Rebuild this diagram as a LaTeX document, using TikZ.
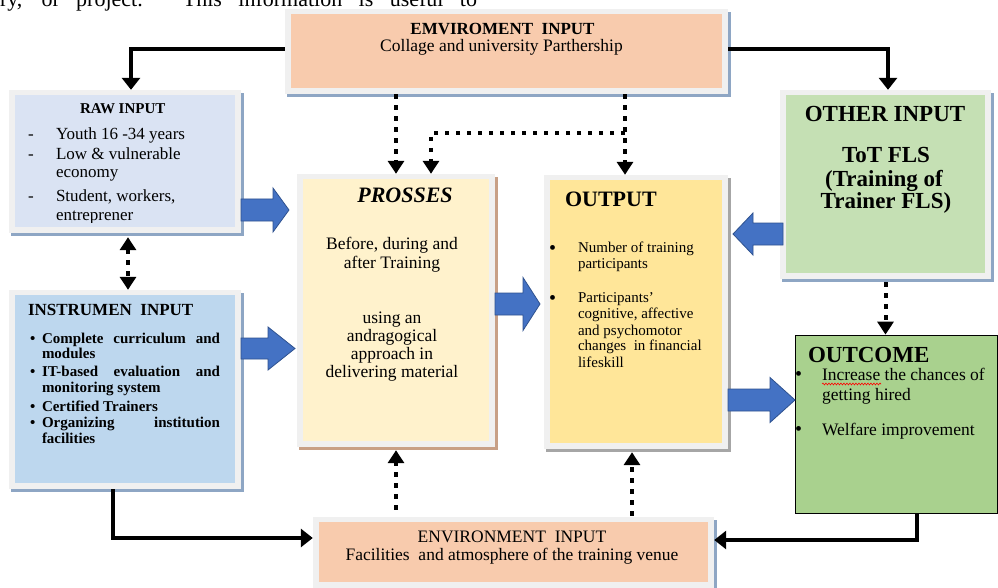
\documentclass[tikz,border=0pt]{standalone}
\usepackage{fontspec}
\setmainfont{Liberation Serif}
\usetikzlibrary{arrows.meta,decorations.pathmorphing,fit,calc}

\definecolor{peach}{HTML}{F8CBAD}
\definecolor{rawblue}{HTML}{DAE3F3}
\definecolor{insblue}{HTML}{BDD7EE}
\definecolor{procy}{HTML}{FFF2CC}
\definecolor{outy}{HTML}{FFE699}
\definecolor{othg}{HTML}{C5E0B4}
\definecolor{outcg}{HTML}{A9D18E}
\definecolor{arrblue}{HTML}{4472C4}
\definecolor{arredge}{HTML}{2F528F}
\definecolor{frameg}{HTML}{F0F0F0}
\definecolor{shblue}{HTML}{8EA6C4}
\definecolor{shbrown}{HTML}{C8A086}
\definecolor{shgray}{HTML}{A6A6A6}

\newcommand\fsz[1]{\fontsize{#1}{#1}\selectfont}
% name, x1, y1, x2, y2, fill, shadow
\newcommand\framebx[7]{%
  \node[fit={(#2,#3) (#4,#5)},inner sep=0pt] (#1) {};
  \fill[#7] ([shift={(2.5pt,-3pt)}]#1.north west) rectangle ([shift={(2.5pt,-3pt)}]#1.south east);
  \fill[frameg] (#1.north west) rectangle (#1.south east);
  \fill[#6] ([shift={(6pt,-5pt)}]#1.north west) rectangle ([shift={(-6pt,6pt)}]#1.south east);
}
% start, base, tip, ycenter, shaft half, head half
\newcommand\blockarr[6]{%
  \filldraw[fill=arrblue,draw=arredge,line width=0.8pt,line join=miter]
    (#1,#4-#5) -- (#2,#4-#5) -- (#2,#4-#6) -- (#3,#4) -- (#2,#4+#6) -- (#2,#4+#5) -- (#1,#4+#5) -- cycle;
}

\begin{document}
\begin{tikzpicture}[x=1pt,y=-1pt,
  txt/.style={anchor=base west,inner sep=0pt,outer sep=0pt},
  ctxt/.style={anchor=base,inner sep=0pt,outer sep=0pt},
  bul/.style={anchor=base west,inner sep=0pt,outer sep=0pt,font=\fsz{20}},
  solidarr/.style={line width=4pt,-{Triangle[width=18pt,length=12pt]}},
  dotarr/.style={line width=4pt,dash pattern=on 4.5pt off 6.5pt,-{Triangle[width=16pt,length=13pt]}},
  dotboth/.style={line width=4pt,dash pattern=on 4.5pt off 6.5pt,{Triangle[width=16pt,length=13pt]}-{Triangle[width=16pt,length=13pt]}}]

\clip (0,0) rectangle (998,588);
\fill[white] (0,0) rectangle (998,588);

% stray text line cut at the top
\node[txt,font=\fsz{22}] (topline) at (0,7) {\makebox[477pt][s]{ry, or project. This information is useful to}};

% boxes
\framebx{envtop}{285}{9}{728}{94}{peach}{shblue}
\framebx{raw}{9}{90}{241}{233}{rawblue}{shblue}
\framebx{instr}{9}{290}{241}{489}{insblue}{shblue}
\framebx{proc}{297}{174}{495}{447}{procy}{shbrown}
\framebx{out}{544}{175}{728}{449}{outy}{shgray}
\framebx{other}{780}{90}{991}{279}{othg}{shblue}
\framebx{envbot}{313}{517}{714}{588}{peach}{shblue}
\node[draw=black,line width=0.8pt,fill=outcg,fit={(795,335) (997.5,513)},inner sep=0pt] (outcome) {};

% solid black connectors
\draw[solidarr] ([yshift=2pt]envtop.west) -| ([xshift=6pt]raw.north);
\draw[solidarr] ([yshift=2pt]envtop.east) -| ([xshift=2.5pt]other.north);
\draw[solidarr] ([xshift=-12pt]instr.south) |- ([yshift=14.5pt]envbot.west);
\draw[solidarr] ([xshift=21pt]outcome.south) |- ([yshift=12.5pt]envbot.east);

% dotted connectors
\coordinate (jr) at (625,133);
\draw[dotarr] (envtop.south -| proc.north) -- (proc.north);
\draw[dotarr] (envtop.south -| jr) -- (jr |- out.north);
\draw[dotarr] (jr) -| ([xshift=35pt]proc.north);
\draw[dotboth] ([shift={(3pt,-4pt)}]raw.south) -- ([xshift=3pt]instr.north);
\draw[dotarr] ([yshift=-3pt]other.south) -- (other.south |- outcome.north);
\draw[dotarr] ([yshift=7pt]envbot.north -| proc.south) -- ([yshift=-3pt]proc.south);
\draw[dotarr] ([shift={(-4pt,1pt)}]envbot.north -| out.south) -- ([shift={(-4pt,-3pt)}]out.south);

% blue block arrows
\blockarr{241}{273}{289}{210}{11}{22}
\blockarr{241}{268}{295}{348.5}{10.5}{21.5}
\blockarr{495}{523}{540}{304}{11}{26.5}
\blockarr{783}{753}{733}{234}{11}{21}
\blockarr{728}{770}{795}{400}{11}{22.5}

% EMVIROMENT INPUT (top)
\node[ctxt,font=\fsz{17}\bfseries] (envtopt) at (502.5,35) {EMVIROMENT\ \ INPUT};
\node[ctxt,font=\fsz{17.5}] (envtops) at (501.5,52) {Collage and university Parthership};

% RAW INPUT
\node[txt,font=\fsz{15}\bfseries] (rawt) at (80,114) {RAW INPUT};
\begin{scope}[font=\fsz{17}]
\node[txt] (rd1) at (28,140) {-};
\node[txt] (rl1) at (56,140) {Youth 16 -34 years};
\node[txt] (rd2) at (28,160) {-};
\node[txt] (rl2) at (56,160) {Low \& vulnerable};
\node[txt] (rl3) at (56,178) {economy};
\node[txt] (rd3) at (28,202) {-};
\node[txt] (rl4) at (56,202) {Student, workers,};
\begin{scope}
\clip (15,95) rectangle (235,222);
\node[txt] (rl5) at (56,220) {entreprener};
\end{scope}
\end{scope}

% INSTRUMEN INPUT
\node[txt,font=\fsz{17}\bfseries] (inst) at (28,315) {INSTRUMEN\ \ INPUT};
\begin{scope}[font=\fsz{15}\bfseries]
\node[txt] (ib1) at (30,343) {•};
\node[txt] (il1) at (42,343) {\makebox[178pt][s]{Complete curriculum and}};
\node[txt] (il2) at (42,358) {modules};
\node[txt] (ib2) at (30,376) {•};
\node[txt] (il3) at (42,376) {\makebox[178pt][s]{IT-based evaluation and}};
\node[txt] (il4) at (42,392) {monitoring system};
\node[txt] (ib3) at (30,411) {•};
\node[txt] (il5) at (42,411) {Certified Trainers};
\node[txt] (ib4) at (30,427) {•};
\node[txt] (il6) at (42,427) {\makebox[178pt][s]{Organizing institution}};
\node[txt] (il7) at (42,443) {facilities};
\end{scope}

% PROSSES
\node[ctxt,font=\fsz{22}\bfseries\itshape] (proct) at (405,203) {PROSSES};
\begin{scope}[font=\fsz{17.5}]
\node[ctxt] (pl1) at (392,249) {Before, during and};
\node[ctxt] (pl2) at (392,268) {after Training};
\node[ctxt] (pl3) at (392,323) {using an};
\node[ctxt] (pl4) at (392,341) {andragogical};
\node[ctxt] (pl5) at (392,359) {approach in};
\node[ctxt] (pl6) at (392,377) {delivering material};
\end{scope}

% OUTPUT
\node[txt,font=\fsz{22}\bfseries] (outt) at (565,207) {OUTPUT};
\node[bul] (ob1) at (549,254) {•};
\node[bul] (ob2) at (549,304) {•};
\begin{scope}[font=\fsz{15}]
\node[txt] (ol1) at (578,252) {Number of training};
\node[txt] (ol2) at (578,268) {participants};
\node[txt] (ol3) at (578,302) {Participants'};
\node[txt] (ol4) at (578,318) {cognitive, affective};
\node[txt] (ol5) at (578,335) {and psychomotor};
\node[txt] (ol6) at (578,350) {changes\ \ in financial};
\node[txt] (ol7) at (578,367) {lifeskill};
\end{scope}

% OTHER INPUT
\begin{scope}[font=\fsz{23}\bfseries]
\node[ctxt] (otht) at (885,122) {OTHER INPUT};
\node[ctxt] (oth1) at (886,163) {ToT FLS};
\node[ctxt] (oth2) at (884,186) {(Training of};
\node[ctxt] (oth3) at (886,208) {Trainer FLS)};
\end{scope}

% OUTCOME
\node[txt,font=\fsz{23}\bfseries] (outct) at (808,362) {OUTCOME};
\node[bul] (cb1) at (795,380) {•};
\node[bul] (cb2) at (795,435) {•};
\begin{scope}[font=\fsz{17.5}]
\node[txt] (cl1) at (822,380) {Increase the chances of};
\node[txt] (cl2) at (822,400) {getting hired};
\node[txt] (cl3) at (822,435) {Welfare improvement};
\end{scope}
\draw[red,line width=0.6pt,decorate,decoration={snake,amplitude=0.9pt,segment length=3pt}] (cl1.base west) ++(0,4) -- ++(59,0);

% ENVIRONMENT INPUT (bottom)
\node[ctxt,font=\fsz{17.5}] (envbt) at (512,542) {ENVIRONMENT\ \ INPUT};
\node[ctxt,font=\fsz{17.5}] (envbs) at (512,560) {Facilities\ \ and atmosphere of the training venue};

\end{tikzpicture}
\end{document}
